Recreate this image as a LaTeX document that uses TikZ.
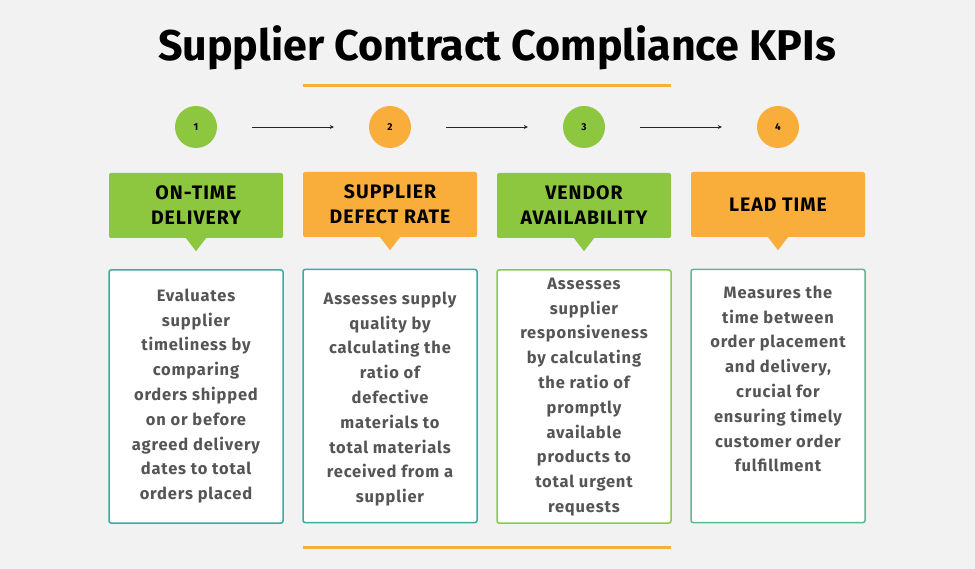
\documentclass[tikz,border=0pt]{standalone}
\usepackage{fontspec}
\setmainfont{Fira Sans}
\newfontfamily\spaced{Fira Sans}[LetterSpace=5]
\usetikzlibrary{arrows.meta}
\definecolor{bg}{HTML}{F2F2F2}
\definecolor{kgreen}{HTML}{8DC63F}
\definecolor{korange}{HTML}{F9AE3C}
\definecolor{kteal}{HTML}{3BAA9F}
\definecolor{kgreenb}{HTML}{8CC84B}
\definecolor{kmint}{HTML}{5CB88F}
\definecolor{dtext}{HTML}{555555}
\tikzset{
  numc/.style={circle, minimum size=42pt, inner sep=0pt, font=\bfseries\fontsize{10}{12}\selectfont},
  headbox/.style={rectangle, rounded corners=2pt, minimum width=174pt, minimum height=65pt, inner sep=0pt, align=center, font=\spaced\bfseries\fontsize{19.5}{25}\selectfont, text=black},
  descbox/.style={rectangle, rounded corners=2pt, fill=white, line width=1.5pt, minimum width=174pt, minimum height=253pt, inner sep=0pt},
  desctext/.style={align=center, text=dtext, font=\spaced\bfseries\fontsize{16.5}{24.8}\selectfont, inner sep=0pt},
  arr/.style={-{Stealth[length=4pt,width=4pt]}, line width=0.8pt, draw=black!85, shorten >=35pt, shorten <=35pt},
  rule/.style={draw=korange, line width=3pt}
}
\begin{document}
\begin{tikzpicture}[x=1pt,y=-1pt]
\useasboundingbox (0,0) rectangle (975,569);
\fill[bg] (0,0) rectangle (975,569);
\node[font=\bfseries\fontsize{43}{48}\selectfont] (title) at (497,48) {Supplier Contract Compliance KPIs};
\coordinate (r1a) at (303,86); \coordinate (r1b) at (671,86);
\draw[rule] (r1a) -- (r1b);
\coordinate (r2a) at (303,547); \coordinate (r2b) at (671,547);
\draw[rule] (r2a) -- (r2b);
% circles
\node[numc, fill=kgreen] (c1) at (196,127) {1};
\node[numc, fill=korange] (c2) at (390,127) {2};
\node[numc, fill=kgreen] (c3) at (584,127) {3};
\node[numc, fill=korange] (c4) at (778,127) {4};
\draw[arr] (c1) -- (c2);
\draw[arr] (c2) -- (c3);
\draw[arr] (c3) -- (c4);
% headers
\node[headbox, fill=kgreen] (h1) at (196,205.5) {ON-TIME\\DELIVERY};
\node[headbox, fill=korange] (h2) at (390,204.5) {SUPPLIER\\DEFECT RATE};
\node[headbox, fill=kgreen] (h3) at (584,205.5) {VENDOR\\AVAILABILITY};
\node[headbox, fill=korange] (h4) at (778,204.5) {LEAD TIME};
\fill[kgreen] ([xshift=-10pt]h1.south) -- ([xshift=10pt]h1.south) -- ([yshift=-13pt]h1.south) -- cycle;
\fill[korange] ([xshift=-10pt]h2.south) -- ([xshift=10pt]h2.south) -- ([yshift=-13pt]h2.south) -- cycle;
\fill[kgreen] ([xshift=-10pt]h3.south) -- ([xshift=10pt]h3.south) -- ([yshift=-13pt]h3.south) -- cycle;
\fill[korange] ([xshift=-10pt]h4.south) -- ([xshift=10pt]h4.south) -- ([yshift=-13pt]h4.south) -- cycle;
% description boxes
\node[descbox, draw=kteal] (d1) at (196,396.5) {};
\node[descbox, draw=kteal] (d2) at (390,396) {};
\node[descbox, draw=kgreenb] (d3) at (584,396.5) {};
\node[descbox, draw=kmint] (d4) at (778,396) {};
\node[desctext] (t1) at (196,396) {Evaluates\\supplier\\timeliness by\\comparing\\orders shipped\\on or before\\agreed delivery\\dates to total\\orders placed};
\node[desctext] (t2) at (390,399) {Assesses supply\\quality by\\calculating the\\ratio of\\defective\\materials to\\total materials\\received from a\\supplier};
\node[desctext] (t3) at (584,397) {Assesses\\supplier\\responsiveness\\by calculating\\the ratio of\\promptly\\available\\products to\\total urgent\\requests};
\node[desctext] (t4) at (778,379) {Measures the\\time between\\order placement\\and delivery,\\crucial for\\ensuring timely\\customer order\\fulfillment};
\end{tikzpicture}
\end{document}
